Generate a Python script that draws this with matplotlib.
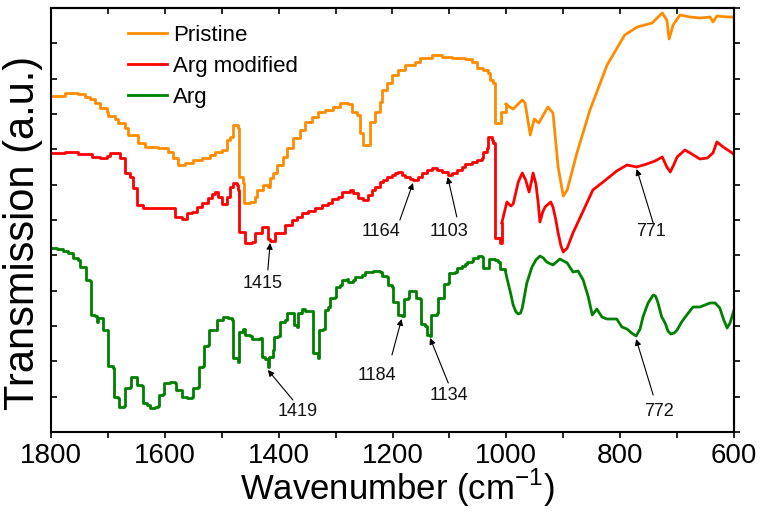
import matplotlib
matplotlib.use("Agg")
import matplotlib.pyplot as plt
from matplotlib.ticker import MultipleLocator, NullFormatter
import numpy as np

# FTIR transmission spectra, arbitrary units (offset for clarity)
pristine_wn = [1800, 1775, 1753, 1740, 1731, 1723, 1714, 1702, 1700, 1688, 1682, 1670, 1665, 1647,
               1635, 1612, 1594, 1586, 1577, 1565, 1551, 1535, 1521, 1512, 1500, 1491, 1485, 1480,
               1471, 1469, 1463, 1461, 1450, 1442, 1438, 1428, 1419, 1415, 1410, 1403, 1392, 1385,
               1375, 1363, 1354, 1341, 1331, 1319, 1305, 1292, 1278, 1271, 1262, 1257, 1252, 1243,
               1240, 1231, 1222, 1218, 1210, 1201, 1190, 1178, 1160, 1152, 1131, 1113, 1095, 1073,
               1060, 1051, 1041, 1032, 1029, 1023, 1020, 1009, 1001,
               994, 988, 972, 967, 958, 951, 943, 927, 918, 909, 900, 893, 876, 853, 823, 792,
               770, 744, 726, 718, 714, 707, 695, 677, 660, 642, 637, 630, 612, 602, 600]
pristine_t = [336, 339, 338, 335, 333, 329, 324, 320, 316, 313, 309, 304, 297, 289,
              285, 284, 280, 274, 267, 269, 272, 274, 277, 280, 282, 292, 295, 307,
              304, 255, 249, 229, 230, 235, 242, 247, 245, 254, 259, 267, 275, 284,
              294, 302, 310, 315, 320, 322, 325, 329, 328, 320, 317, 299, 287, 287,
              310, 320, 330, 342, 349, 357, 362, 367, 370, 374, 377, 375, 374, 373,
              370, 364, 362, 359, 352, 349, 309, 320, 328,
              325, 323, 332, 329, 297, 313, 309, 325, 319, 265, 236, 242, 279, 322, 367, 397,
              405, 409, 419, 412, 393, 407, 417, 415, 414, 415, 410, 416, 415, 415, 414]

modified_wn = [1800, 1775, 1753, 1728, 1714, 1702, 1696, 1684, 1679, 1670, 1661, 1656, 1649, 1638,
               1591, 1582, 1570, 1561, 1552, 1543, 1535, 1524, 1517, 1512, 1507, 1500, 1491, 1485,
               1480, 1473, 1471, 1469, 1459, 1447, 1442, 1429, 1420, 1418, 1415, 1406, 1389, 1377,
               1368, 1359, 1348, 1336, 1324, 1313, 1306, 1296, 1289, 1275, 1269, 1261, 1252, 1243,
               1236, 1231, 1222, 1217, 1210, 1201, 1196, 1190, 1183, 1178, 1169, 1164, 1155, 1148,
               1139, 1131, 1122, 1113, 1103, 1095, 1087, 1078, 1073, 1060, 1051, 1043, 1041, 1034,
               1032, 1025, 1023, 1020, 1011, 1008,
               999, 992, 988, 979, 972, 966, 960, 956, 953, 948, 944, 941, 936, 932, 922, 918,
               913, 909, 904, 900, 893, 883, 865, 848, 830, 806, 788, 771, 753, 739, 726, 718,
               712, 706, 700, 686, 677, 660, 647, 637, 630, 619, 603, 600]
modified_t = [279, 280, 278, 275, 274, 276, 279, 279, 274, 259, 255, 244, 227, 224,
              224, 215, 213, 219, 220, 225, 229, 234, 238, 240, 235, 228, 235, 245,
              249, 247, 242, 200, 189, 190, 199, 205, 205, 193, 191, 199, 207, 212,
              215, 219, 221, 224, 227, 229, 233, 235, 240, 242, 239, 234, 232, 237,
              242, 245, 250, 252, 255, 257, 259, 260, 257, 255, 253, 252, 255, 259,
              262, 264, 262, 260, 257, 259, 262, 265, 268, 270, 272, 274, 280, 284,
              295, 292, 289, 194, 189, 209,
              230, 226, 228, 250, 259, 252, 240, 250, 259, 248, 229, 210, 220, 225, 230, 225,
              212, 199, 186, 180, 184, 199, 221, 242, 250, 261, 267, 265, 268, 271, 275, 265,
              260, 267, 275, 282, 279, 273, 274, 279, 290, 285, 279, 277]

arg_wn = [1800, 1789, 1779, 1770, 1761, 1753, 1749, 1740, 1738, 1731, 1730, 1723, 1719, 1717,
          1710, 1709, 1700, 1699, 1691, 1689, 1682, 1681, 1672, 1670, 1661, 1659, 1651, 1649,
          1640, 1638, 1631, 1626, 1617, 1612, 1610, 1603, 1601, 1591, 1582, 1580, 1570, 1569,
          1561, 1552, 1551, 1542, 1540, 1533, 1531, 1524, 1522, 1512, 1508, 1498, 1489, 1482,
          1480, 1471, 1470, 1463, 1459, 1450, 1447, 1438, 1433, 1429, 1424, 1419, 1417, 1410,
          1408, 1401, 1398, 1389, 1385, 1375, 1373, 1368, 1366, 1359, 1354, 1341, 1340, 1331,
          1329, 1322, 1319, 1313, 1310, 1301, 1299, 1292, 1289, 1280, 1278, 1269, 1266, 1254,
          1248, 1234, 1222, 1218, 1210, 1208, 1201, 1199, 1192, 1190, 1184, 1180, 1173, 1171,
          1160, 1159, 1152, 1150, 1143, 1139, 1134, 1132, 1122, 1120, 1111, 1109, 1102, 1101,
          1090, 1087, 1078, 1073, 1069, 1060, 1059, 1050, 1043, 1041, 1032, 1030, 1020, 1015,
          1011, 1002,
          999, 993, 988, 983, 979, 975, 972, 964, 955, 948, 941, 935, 929, 918, 906, 893,
          883, 874, 865, 856, 849, 845, 841, 832, 823, 806, 797, 788, 780, 772, 765, 760,
          751, 742, 738, 734, 727, 721, 716, 711, 705, 700, 692, 683, 672, 660, 642, 633,
          625, 618, 612, 607, 600]
arg_t = [184, 183, 181, 179, 174, 172, 165, 165, 152, 151, 117, 116, 110, 114,
         114, 102, 101, 66, 64, 35, 34, 25, 26, 44, 45, 55, 55, 47,
         46, 29, 27, 24, 25, 26, 37, 38, 49, 50, 49, 42, 40, 35,
         34, 35, 44, 45, 65, 66, 86, 87, 102, 102, 112, 115, 114, 112,
         74, 70, 100, 103, 97, 96, 93, 93, 94, 75, 73, 65, 75, 82,
         95, 96, 110, 112, 119, 119, 107, 105, 119, 123, 121, 121, 79, 74,
         102, 103, 122, 125, 134, 135, 145, 147, 152, 153, 150, 152, 155, 157,
         160, 161, 160, 156, 155, 147, 145, 130, 130, 117, 116, 133, 134, 141,
         141, 134, 133, 108, 106, 97, 96, 117, 119, 134, 134, 148, 149, 159,
         160, 164, 166, 168, 170, 171, 174, 176, 175, 164, 164, 173, 172, 170,
         163, 162,
         154, 140, 127, 120, 118, 119, 124, 149, 165, 172, 176, 174, 170, 167, 173, 169,
         160, 161, 152, 135, 117, 120, 123, 115, 113, 113, 105, 103, 99, 96, 103, 115,
         129, 137, 136, 130, 115, 109, 101, 98, 99, 102, 110, 117, 125, 125, 129, 129,
         124, 112, 104, 109, 122]

series = [
    (pristine_wn, pristine_t, "#ff8c00", "Pristine"),
    (modified_wn, modified_t, "#ff0000", "Arg modified"),
    (arg_wn, arg_t, "#008000", "Arg"),
]

# label, arrow tip (wavenumber, value), arrow tail, label centre
peak_labels = [
    ("1415", (1415, 189), (1419, 162), (1429, 149)),
    ("1164", (1164, 249), (1187, 212), (1220, 200)),
    ("1103", (1103, 255), (1087, 215), (1101, 200)),
    ("771", (771, 263), (742, 209), (746, 200)),
    ("1419", (1419, 62), (1375, 32), (1366, 20)),
    ("1184", (1184, 113), (1201, 77), (1227, 57)),
    ("1134", (1134, 94), (1102, 49), (1101, 37)),
    ("772", (772, 93), (742, 37), (732, 20)),
]

font = ['Liberation Sans', 'DejaVu Sans']

fig = plt.figure(figsize=(7.65, 5.17), dpi=100)
ax = fig.add_axes([51 / 765, 85 / 517, 683 / 765, 424 / 517])

for wn, t, color, label in series:
    wn = np.asarray(wn)
    t = np.asarray(t)
    # the high-wavenumber part of each scan is coarsely sampled
    k = int(np.sum(wn >= 1000))
    ax.plot(wn[:k], t[:k], drawstyle='steps-post', color=color, lw=2, label=label)
    ax.plot(wn[k - 1:], t[k - 1:], color=color, lw=2)

for text, tip, tail, pos in peak_labels:
    ax.annotate('', xy=tip, xytext=tail,
                arrowprops=dict(arrowstyle='-|>', color='black', lw=0.8,
                                mutation_scale=9, shrinkA=0, shrinkB=0))
    ax.text(pos[0], pos[1], text, ha='center', va='center',
            fontsize=13, family=font, color='#111111')

ax.set_xlim(1800, 600)
ax.set_ylim(0, 424)

ax.xaxis.set_major_locator(MultipleLocator(200))
ax.xaxis.set_minor_locator(MultipleLocator(100))
ax.set_yticks(np.linspace(0, 424, 13))
ax.yaxis.set_major_formatter(NullFormatter())

ax.tick_params(axis='x', which='both', direction='out', length=4, width=1.2,
               pad=4, labelsize=20)
ax.tick_params(axis='y', which='both', direction='in', length=4, width=1.2)
for lab in ax.get_xticklabels():
    lab.set_family(font)

top = ax.secondary_xaxis('top')
top.xaxis.set_major_locator(MultipleLocator(100))
top.tick_params(direction='in', length=4, width=1.2, labeltop=False)
right = ax.secondary_yaxis('right')
right.set_yticks(np.linspace(0, 424, 13))
right.tick_params(direction='out', length=4, width=1.2, labelright=False)

for a in (ax, top, right):
    for sp in a.spines.values():
        sp.set_linewidth(1.5)

ax.set_xlabel('Wavenumber (cm$^{\\mathregular{-1}}$)', fontsize=25, family=font)
ax.xaxis.set_label_coords(0.507, -0.082)
ax.set_ylabel('Transmission (a.u.)', fontsize=30, family=font)
ax.yaxis.set_label_coords(-0.012, 0.47)

ax.legend(loc='upper left', bbox_to_anchor=(0.1127, 0.96), frameon=False,
          borderpad=0, borderaxespad=0, labelspacing=0.45, handlelength=1.76,
          handletextpad=0.27, prop={'family': font, 'size': 16})

fig.savefig('out.png', dpi=100)
